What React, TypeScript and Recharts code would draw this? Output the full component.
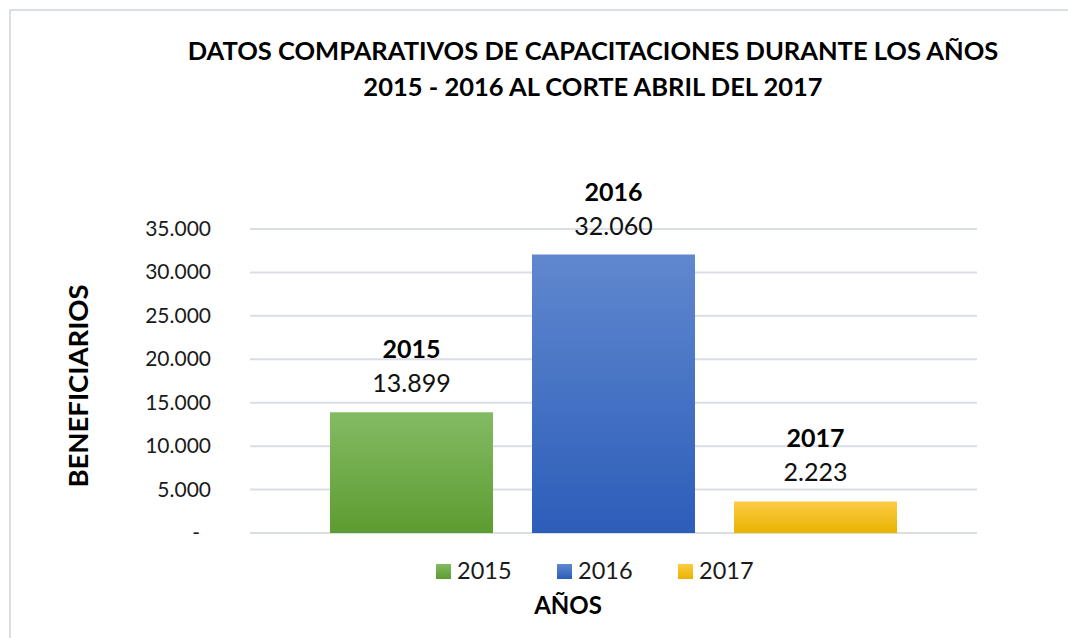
import React from "react";
import {
  BarChart,
  Bar,
  XAxis,
  YAxis,
  CartesianGrid,
  Legend,
  LabelList,
  Customized,
} from "recharts";

// one category, three series (years)
const CATEGORY = ["Beneficiarios"];
const YEARS = ["2015", "2016", "2017"];
// bar heights as drawn in the picture (the 2017 bar is taller than its printed label)
const BAR_VALUES = [13899, 32060, 3630];
const LABEL_TEXT = ["13.899", "32.060", "2.223"];
const Y_TICKS = [0, 5000, 10000, 15000, 20000, 25000, 30000, 35000];
const TITLE_LINES = [
  "DATOS COMPARATIVOS DE CAPACITACIONES DURANTE LOS AÑOS",
  "2015 - 2016 AL CORTE ABRIL DEL 2017",
];
const X_TITLE = "AÑOS";
const Y_TITLE = "BENEFICIARIOS";

const COLORS = [
  { top: "#83bb63", bottom: "#5d9c31" },
  { top: "#6088cf", bottom: "#2c5db9" },
  { top: "#fdcb45", bottom: "#e9b300" },
];

const FONT = "Lato, 'Open Sans', sans-serif";
const W = 1068;
const H = 638;
const LEGEND_H = 40;

const data = CATEGORY.map((name) => {
  const row: Record<string, string | number> = { name };
  YEARS.forEach((y, i) => {
    row[y] = BAR_VALUES[i];
  });
  return row;
});

function fmtTick(v: number): string {
  return String(v).replace(/\B(?=(\d{3})+(?!\d))/g, ".");
}

function YTick(props: any) {
  const { x, y, payload } = props;
  const zero = payload.value === 0;
  return (
    <text
      x={zero ? x - 11 : x}
      y={y}
      dy={7}
      textAnchor="end"
      fontSize={21}
      fontFamily={FONT}
      fill="#1a1a1a"
    >
      {zero ? "-" : fmtTick(payload.value)}
    </text>
  );
}

function makeLabel(i: number) {
  return (props: any) => {
    const { x, y, width } = props;
    const cx = x + width / 2;
    return (
      <g>
        <text x={cx} y={y - 54} textAnchor="middle" fontSize={25} fontWeight={700} fontFamily={FONT} fill="#000">
          {YEARS[i]}
        </text>
        <text x={cx} y={y - 20} textAnchor="middle" fontSize={25} fontFamily={FONT} fill="#111">
          {LABEL_TEXT[i]}
        </text>
      </g>
    );
  };
}

function LegendContent() {
  const items = [
    { sq: 436, tx: 457 },
    { sq: 557, tx: 578 },
    { sq: 678, tx: 699 },
  ];
  return (
    <svg width={W} height={LEGEND_H} style={{ display: "block" }}>
      <defs>
        {COLORS.map((c, i) => (
          <linearGradient key={i} id={`lg${i}`} x1="0" y1="0" x2="0" y2="1">
            <stop offset="0%" stopColor={c.top} />
            <stop offset="100%" stopColor={c.bottom} />
          </linearGradient>
        ))}
      </defs>
      {YEARS.map((y, i) => (
        <g key={y}>
          <rect x={items[i].sq} y={14} width={15} height={15} fill={`url(#lg${i})`} />
          <text x={items[i].tx} y={29} fontSize={23.5} fontFamily={FONT} fill="#1a1a1a">
            {y}
          </text>
        </g>
      ))}
    </svg>
  );
}

function Decorations() {
  return (
    <g>
      <rect x={10} y={10} width={W + 20} height={H + 20} fill="none" stroke="#d9dee8" strokeWidth={2} />
      {TITLE_LINES.map((t, i) => (
        <text
          key={i}
          x={593}
          y={60 + i * 36}
          textAnchor="middle"
          fontSize={25.5}
          fontWeight={700}
          fontFamily={FONT}
          fill="#000"
        >
          {t}
        </text>
      ))}
      <text x={568} y={614} textAnchor="middle" fontSize={24} fontWeight={700} fontFamily={FONT} fill="#000">
        {X_TITLE}
      </text>
      <text
        x={0}
        y={0}
        transform="translate(88 386) rotate(-90)"
        textAnchor="middle"
        fontSize={27.5}
        fontWeight={700}
        fontFamily={FONT}
        fill="#000"
      >
        {Y_TITLE}
      </text>
    </g>
  );
}

export default function App() {
  return (
    <div style={{ position: "absolute", left: 0, top: 0, width: W, height: H, background: "#fff" }}>
      <BarChart
        width={W}
        height={H}
        data={data}
        margin={{ top: 229, right: 91, bottom: 105 - LEGEND_H, left: 10 }}
        barCategoryGap={80}
        barGap={39}
      >
        <defs>
          {COLORS.map((c, i) => (
            <linearGradient key={i} id={`bg${i}`} x1="0" y1="0" x2="0" y2="1">
              <stop offset="0%" stopColor={c.top} />
              <stop offset="100%" stopColor={c.bottom} />
            </linearGradient>
          ))}
        </defs>
        <CartesianGrid vertical={false} stroke="#d9dde4" strokeWidth={2} />
        <XAxis dataKey="name" hide />
        <YAxis
          width={240}
          domain={[0, 35000]}
          ticks={Y_TICKS}
          tickSize={0}
          tickMargin={39}
          axisLine={false}
          tickLine={false}
          tick={<YTick />}
          interval={0}
        />
        <Legend
          verticalAlign="bottom"
          content={<LegendContent />}
          wrapperStyle={{ left: 0, top: 550, width: W }}
        />
        {YEARS.map((y, i) => (
          <Bar key={y} dataKey={y} fill={`url(#bg${i})`} isAnimationActive={false}>
            <LabelList dataKey={y} content={makeLabel(i)} />
          </Bar>
        ))}
        <Customized component={Decorations} />
      </BarChart>
    </div>
  );
}
